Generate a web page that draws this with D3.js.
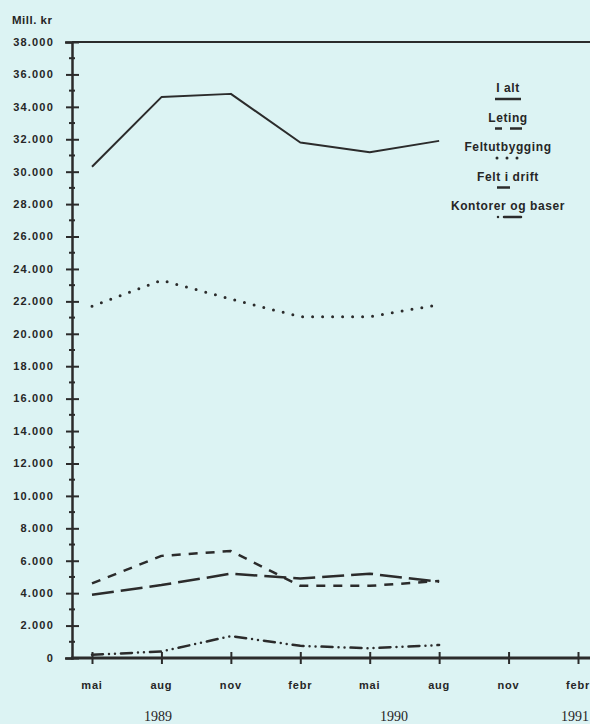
<!DOCTYPE html>
<html>
<head>
<meta charset="utf-8">
<script src="https://cdn.jsdelivr.net/npm/d3@7"></script>
<style>
  html, body { margin: 0; padding: 0; background: #dcf3f3; }
  svg { display: block; }
  .lbl { font-family: "Liberation Sans", Arial, sans-serif; font-weight: bold; fill: #262626; }
  .year { font-family: "Liberation Serif", "Times New Roman", serif; fill: #262626; }
</style>
</head>
<body>
<div id="chart"></div>
<script>
// quarters along the x axis
var months = ["mai", "aug", "nov", "febr", "mai", "aug", "nov", "febr"];
var years = [{ label: "1989", at: 0.95 }, { label: "1990", at: 4.35 }, { label: "1991", at: 6.98 }];
var yTicks = d3.range(0, 38001, 2000);
var yMinor = d3.range(1000, 38000, 2000);

// values in mill. kr, mai 1989 .. aug 1990
var iAlt = [30300, 34600, 34800, 31800, 31200, 31900];
var leting = [4600, 6300, 6600, 4450, 4450, 4750];
var feltutbygging = [21700, 23300, 22150, 21050, 21050, 21800];
var feltIDrift = [3900, 4500, 5200, 4900, 5200, 4700];
var kontorer = [200, 400, 1350, 750, 600, 800];

var seriesNames = ["I alt", "Leting", "Feltutbygging", "Felt i drift", "Kontorer og baser"];
var seriesValues = [iAlt, leting, feltutbygging, feltIDrift, kontorer];

var ink = "#2b2b2b";
var styles = [
  { dash: null, width: 2, cap: "butt" },
  { dash: "9,8", width: 2.5, cap: "butt" },
  { dash: "0,10", width: 3, cap: "round" },
  { dash: "22,7", width: 2.5, cap: "butt" },
  { dash: "11,6,0,6,0,6", width: 2.5, cap: "round" }
];
// legend keys are short, so some need their own pattern
var legendDash = [null, "7,8,12,100", "0,10", null, "0,6,17,100"];
var legendSpan = [[-13, 13], [-13, 14], [-11, 10], [-11, 2], [-10, 14]];

var width = 590, height = 724;
var svg = d3.select("#chart").append("svg").attr("width", width).attr("height", height);
svg.append("rect").attr("width", width).attr("height", height).attr("fill", "#dcf3f3");

var x = d3.scaleLinear().domain([0, 7]).range([92, 578]);
var y = d3.scaleLinear().domain([0, 38000]).range([658, 42]);
var axisX = 72;
var fmt = d3.formatLocale({ decimal: ",", thousands: ".", grouping: [3], currency: ["", ""] }).format(",");

// frame: top line, y axis, x axis
svg.append("line").attr("x1", axisX).attr("x2", width).attr("y1", y(38000)).attr("y2", y(38000))
  .attr("stroke", ink).attr("stroke-width", 2);

// y axis with major ticks crossing the line
var gy = svg.append("g").attr("transform", "translate(" + axisX + ",0)")
  .call(d3.axisLeft(y).tickValues(yTicks).tickSize(7).tickFormat(""));
gy.selectAll("line").attr("x2", -6).attr("x1", 7).attr("stroke", ink).attr("stroke-width", 2);
gy.select(".domain").attr("stroke", ink).attr("stroke-width", 2.5);
gy.selectAll(".minor").data(yMinor).enter().append("line")
  .attr("x1", -3).attr("x2", 3).attr("y1", function (d) { return y(d); }).attr("y2", function (d) { return y(d); })
  .attr("stroke", ink).attr("stroke-width", 2);

svg.selectAll(".ylab").data(yTicks).enter().append("text")
  .attr("class", "lbl")
  .attr("x", 54).attr("y", function (d) { return y(d); })
  .attr("dy", "0.35em").attr("text-anchor", "end")
  .style("font-size", "11px").style("letter-spacing", "1.2px")
  .text(function (d) { return fmt(d); });

svg.append("text").attr("class", "lbl").attr("x", 12).attr("y", 24)
  .style("font-size", "11.5px").style("letter-spacing", "0.5px").text("Mill. kr");

// x axis
var gx = svg.append("g").attr("transform", "translate(0," + y(0) + ")")
  .call(d3.axisBottom(x).tickValues(d3.range(months.length)).tickSize(6).tickFormat(""));
gx.select(".domain").remove();
gx.append("line").attr("x1", axisX - 1).attr("x2", width).attr("stroke", ink).attr("stroke-width", 3);
gx.selectAll(".tick line").attr("y1", -6).attr("y2", 6).attr("stroke", ink).attr("stroke-width", 2);

svg.selectAll(".xlab").data(months).enter().append("text")
  .attr("class", "lbl")
  .attr("x", function (d, i) { return x(i); }).attr("y", 689)
  .attr("text-anchor", "middle")
  .style("font-size", "11px").style("letter-spacing", "0.8px")
  .text(function (d) { return d; });

svg.selectAll(".yr").data(years).enter().append("text")
  .attr("class", "year")
  .attr("x", function (d) { return Math.min(x(d.at), width - 15); }).attr("y", 721)
  .attr("text-anchor", "middle").style("font-size", "14px")
  .text(function (d) { return d.label; });

// series
var line = d3.line()
  .x(function (d, i) { return x(i); })
  .y(function (d) { return y(d); });

seriesValues.forEach(function (vals, k) {
  var s = styles[k];
  svg.append("path").datum(vals)
    .attr("d", line)
    .attr("fill", "none").attr("stroke", ink)
    .attr("stroke-width", s.width)
    .attr("stroke-linecap", s.cap)
    .attr("stroke-linejoin", "round")
    .attr("stroke-dasharray", s.dash);
});

// legend, stacked in the upper right
var legend = svg.append("g").attr("transform", "translate(508,0)");
seriesNames.forEach(function (name, k) {
  var base = 92 + k * 29.5;
  var s = styles[k];
  legend.append("text").attr("class", "lbl")
    .attr("x", 0).attr("y", base).attr("text-anchor", "middle")
    .style("font-size", "12px").style("letter-spacing", "0.6px")
    .text(name);
  legend.append("line")
    .attr("x1", legendSpan[k][0]).attr("x2", legendSpan[k][1])
    .attr("y1", base + 7).attr("y2", base + 7)
    .attr("stroke", ink).attr("stroke-width", k === 0 ? 2.5 : s.width)
    .attr("stroke-linecap", s.cap)
    .attr("stroke-dasharray", legendDash[k]);
});
</script>
</body>
</html>
